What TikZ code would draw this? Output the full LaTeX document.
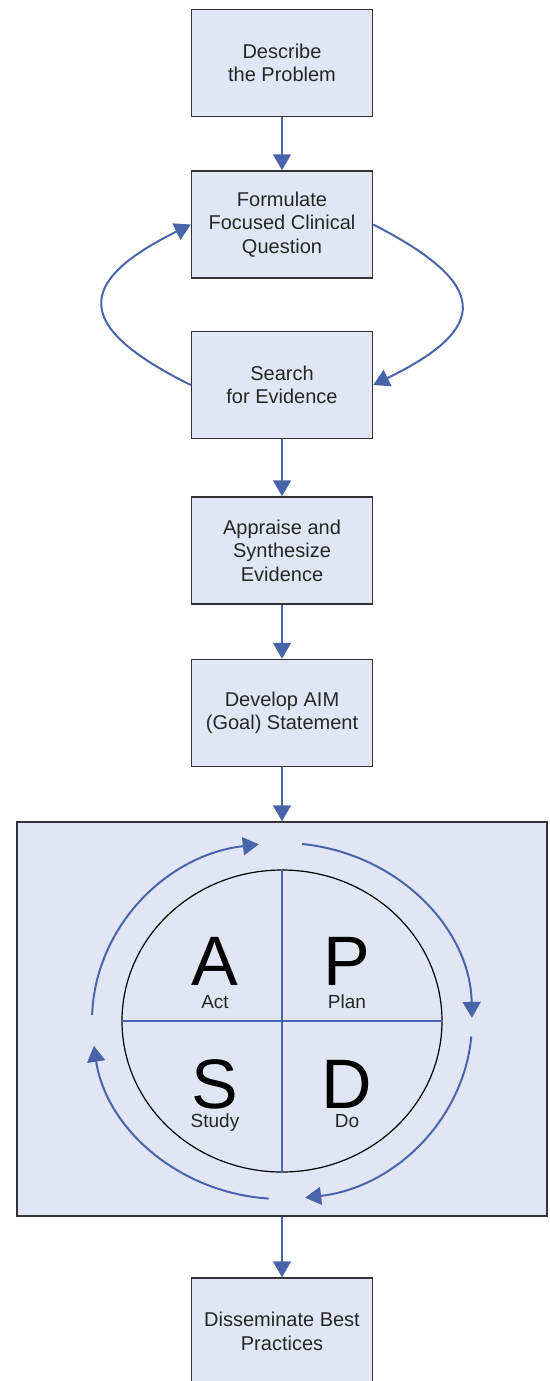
\documentclass[tikz,border=0pt]{standalone}
\usepackage{fontspec}
\setmainfont{Liberation Sans}
\usetikzlibrary{arrows.meta,shapes.geometric}
\definecolor{boxfill}{RGB}{226,230,244}
\definecolor{boxline}{RGB}{50,50,55}
\definecolor{flowblue}{RGB}{72,100,170}
\tikzstyle{box} = [draw=boxline,line width=1.5pt,fill=boxfill,minimum width=181pt,minimum height=107pt,align=center,text=black!85,font=\fontsize{20}{23.5}\selectfont]
\tikzstyle{arrow} = [draw=flowblue,line width=2pt,-{Triangle[width=18pt,length=16pt]}]
\tikzstyle{letter} = [anchor=base,inner sep=0pt,font=\fontsize{70}{70}\selectfont]
\tikzstyle{word} = [anchor=base,inner sep=0pt,text=black!85,font=\fontsize{19}{19}\selectfont]

\begin{document}
\begin{tikzpicture}[x=1pt,y=-1pt]
	\useasboundingbox (0,0) rectangle (549,1381);
	% steps
	\node (describe) at (282,63) [box] {Describe\\the Problem};
	\node (formulate) at (282,224.5) [box] {Formulate\\Focused Clinical\\Question};
	\node (search) at (282,385) [box] {Search\\for Evidence};
	\node (appraise) at (282,550.5) [box] {Appraise and\\Synthesize\\Evidence};
	\node (develop) at (282,713) [box] {Develop AIM\\(Goal) Statement};
	\node (pdsa) at (282,1019) [box,minimum width=530pt,minimum height=394pt] {};
	\node (disseminate) at (282,1331.5) [box] {Disseminate Best\\Practices};
	\draw [arrow] (describe) -- (formulate);
	\draw [arrow] (search) -- (appraise);
	\draw [arrow] (appraise) -- (develop);
	\draw [arrow] (develop) -- (pdsa);
	\draw [arrow] (pdsa) -- (disseminate);
	% loop between question and search
	\draw [arrow] (formulate.east) .. controls +(117,60) and +(117,-57) .. (search.east);
	\draw [arrow] (search.west) .. controls +(-117,-58) and +(-117,58) .. (formulate.west);
	% pdsa wheel
	\coordinate (ring) at (282,1021);
	\node (cycle) at (ring) [ellipse,draw=black,line width=1.2pt,minimum width=320pt,minimum height=302pt,inner sep=0pt] {};
	\draw [flowblue,line width=1.5pt] (cycle.north) -- (cycle.south);
	\draw [flowblue,line width=1.5pt] (cycle.west) -- (cycle.east);
	\foreach \a/\b in {178/97,84/1,-5/-83,-94/-172} {
		\draw [arrow] (ring) ++(\a:190pt and 178pt) arc [start angle=\a,end angle=\b,x radius=190pt,y radius=178pt];
	}
	\node (act) at (215,985) [letter] {A};
	\node (plan) at (347,985) [letter] {P};
	\node (study) at (215,1108) [letter] {S};
	\node (do) at (347,1108) [letter] {D};
	\node (actlabel) at (215,1008) [word] {Act};
	\node (planlabel) at (347,1008) [word] {Plan};
	\node (studylabel) at (215,1127) [word] {Study};
	\node (dolabel) at (347,1127) [word] {Do};
\end{tikzpicture}
\end{document}
